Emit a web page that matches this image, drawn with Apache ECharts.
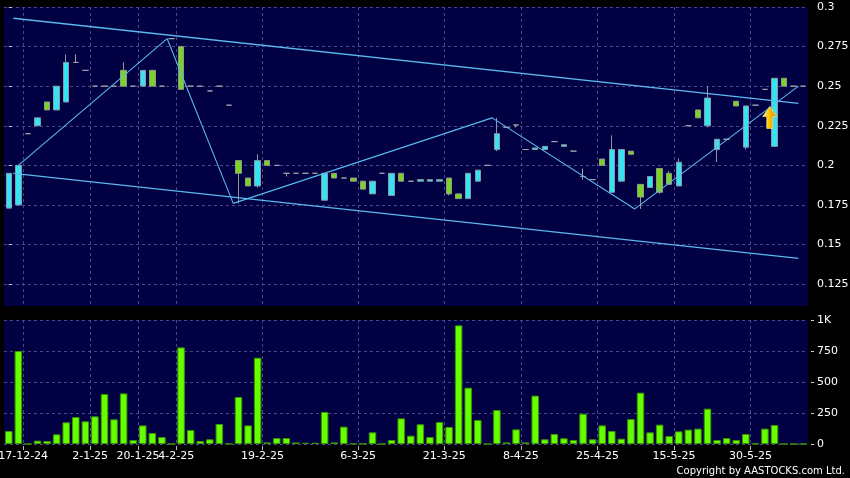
<!DOCTYPE html>
<html><head><meta charset="utf-8">
<script src="https://cdn.jsdelivr.net/npm/echarts@6/dist/echarts.min.js"></script>
<style>html,body{margin:0;padding:0;background:#000;}#c{width:850px;height:478px;}</style>
</head><body><div id="c"></div>
<script>
// ---- data ----
const opens  = [.173,.175,.220,.225,.240,.235,.240,.265,.260,.250,.250,.250,.260,.250,.250,.260,.250,.280,.275,.250,
                .250,.247,.250,.238,.203,.192,.187,.203,.200,.195,.195,.195,.195,.178,.195,.192,.192,.190,.182,.195,
                .181,.195,.190,.190,.190,.190,.192,.182,.179,.190,.200,.210,.224,.2255,.210,.210,.210,.215,.212,.209,
                .193,.191,.204,.183,.190,.209,.188,.186,.198,.195,.187,.225,.235,.225,.210,.2165,.2405,.2115,.238,.248,
                .212,.255,.250,.250];
const closes = [.195,.200,.220,.230,.235,.250,.265,.265,.260,.250,.250,.250,.250,.250,.260,.250,.250,.280,.248,.250,
                .250,.247,.250,.238,.195,.187,.203,.200,.200,.195,.195,.195,.195,.195,.192,.192,.190,.185,.190,.195,
                .195,.190,.190,.191,.191,.191,.182,.179,.195,.197,.200,.220,.224,.2255,.210,.211,.212,.215,.213,.209,
                .193,.191,.200,.210,.210,.207,.180,.193,.183,.188,.202,.225,.230,.2425,.2165,.2165,.2375,.2375,.238,.248,
                .255,.250,.250,.250];
const lows   = [.173,.175,.220,.225,.235,.235,.240,.265,.260,.250,.250,.250,.250,.250,.250,.250,.250,.280,.248,.250,
                .250,.247,.250,.238,.176,.187,.186,.200,.200,.193,.195,.195,.195,.178,.192,.192,.190,.185,.182,.195,
                .181,.190,.190,.190,.190,.190,.181,.179,.179,.190,.200,.209,.224,.224,.210,.210,.210,.215,.212,.209,
                .191,.191,.200,.183,.190,.207,.1725,.186,.182,.188,.187,.225,.230,.224,.202,.2165,.2375,.210,.238,.248,
                .212,.250,.250,.250];
const highs  = [.195,.200,.220,.230,.240,.250,.270,.270,.260,.250,.250,.250,.265,.250,.260,.260,.250,.280,.275,.250,
                .250,.247,.250,.238,.203,.192,.207,.203,.200,.195,.195,.195,.195,.195,.195,.192,.192,.190,.190,.195,
                .195,.195,.190,.191,.191,.191,.192,.182,.195,.197,.200,.230,.224,.2255,.210,.211,.212,.215,.213,.209,
                .198,.191,.204,.219,.210,.209,.188,.193,.198,.1965,.2045,.225,.235,.250,.2165,.2165,.2405,.2375,.238,.248,
                .255,.255,.250,.250];
const volumes = [105,750,0,27,24,78,175,218,183,223,403,199,408,32,150,89,56,0,779,113,
                 24,38,161,3,379,150,696,13,48,48,13,10,10,258,13,140,3,3,94,0,
                 32,207,67,159,56,177,137,957,454,193,0,274,13,118,13,390,38,81,46,32,
                 244,38,150,105,43,201,414,94,156,64,102,116,124,285,32,48,32,81,3,124,
                 153,0,0,0];
const categories = opens.map((_, i) => String(i + 1));          // trading-day bars
const tickLabels = ['17-12-24','2-1-25','20-1-25','4-2-25','19-2-25','6-3-25','21-3-25','8-4-25','25-4-25','15-5-25','30-5-25'];
const tickAt     = [2, 9, 14, 18, 27, 37, 46, 54, 62, 70, 78];  // bar where each labelled date starts
const priceTicks = [0.125, 0.15, 0.175, 0.2, 0.225, 0.25, 0.275, 0.3];
const volTicks   = [0, 250, 500, 750, 1000];
// overlay lines, x in bar units
const zigzag        = [[1, 0.2], [16.55, 0.28], [23.45, 0.176], [50.5, 0.23], [65.4, 0.1725], [82.5, 0.25]];
const upperChannel  = [[0.47, 0.2929], [82.5, 0.2392]];
const lowerChannel  = [[0.47, 0.1950], [82.5, 0.1413]];
const arrowAt       = [79.5, 0.2302];
const priceMin = 0.1112;

// ---- chart ----
const gridColor = '#47478a';
const font = 'DejaVu Sans';
const boundaryCats = Array.from({length: categories.length + 1}, (_, i) => {
  const t = tickAt.indexOf(i); return t >= 0 ? tickLabels[t] : 'b' + i;
});
const showTick = (idx) => tickAt.indexOf(idx) >= 0;
const lineStyle = {color: '#5ab9ee', width: 1.3};

const chart = echarts.init(document.getElementById('c'));
chart.setOption({
  backgroundColor: '#000',
  animation: false,
  grid: [
    {left: 4, right: 42, top: 7, bottom: 172, show: true, backgroundColor: '#000042', borderWidth: 0, outerBoundsMode: 'none', containLabel: false},
    {left: 4, right: 42, top: 320, bottom: 34, show: true, backgroundColor: '#000042', borderWidth: 0, outerBoundsMode: 'none', containLabel: false}
  ],
  xAxis: [
    {type: 'category', gridIndex: 0, data: categories, show: false, position: 'bottom'},
    {type: 'category', gridIndex: 1, data: categories, show: false, position: 'bottom'},
    {type: 'category', gridIndex: 0, data: boundaryCats, boundaryGap: false, position: 'bottom',
      axisLine: {show: false}, axisTick: {show: false}, axisLabel: {show: false},
      splitLine: {show: true, interval: showTick, lineStyle: {color: gridColor, type: [3, 3]}}},
    {type: 'category', gridIndex: 1, data: boundaryCats, boundaryGap: false, position: 'bottom', offset: 2,
      axisLine: {show: false},
      axisTick: {show: true, interval: showTick, length: 4, lineStyle: {color: '#bbbbbb'}},
      axisLabel: {show: true, interval: showTick, color: '#ffffff', fontSize: 11, fontFamily: font, margin: 5},
      splitLine: {show: true, interval: showTick, lineStyle: {color: gridColor, type: [3, 3]}}},
    {type: 'value', gridIndex: 0, min: -0.5, max: categories.length - 0.5, show: false, position: 'bottom'}
  ],
  yAxis: [
    {type: 'value', gridIndex: 0, position: 'right', min: priceMin, max: priceTicks[priceTicks.length - 1],
      minInterval: priceTicks[1] - priceTicks[0], maxInterval: priceTicks[1] - priceTicks[0], offset: 3,
      axisLine: {show: false},
      axisTick: {show: true, length: 3, customValues: priceTicks, lineStyle: {color: '#cccccc'}},
      axisLabel: {color: '#ffffff', fontSize: 11, fontFamily: font, margin: 6,
        customValues: priceTicks,
        formatter: v => String(Math.round(v * 1000) / 1000)},
      splitLine: {show: true, lineStyle: {color: gridColor, type: [3, 3]}}},
    {type: 'value', gridIndex: 1, position: 'right', min: volTicks[0], max: volTicks[volTicks.length - 1],
      interval: volTicks[1] - volTicks[0], offset: 3,
      axisLine: {show: false},
      axisTick: {show: true, length: 3, lineStyle: {color: '#cccccc'}},
      axisLabel: {color: '#ffffff', fontSize: 11, fontFamily: font, margin: 6,
        formatter: v => v >= 1000 ? (v / 1000) + 'K' : String(v)},
      splitLine: {show: true, lineStyle: {color: gridColor, type: [3, 3]}}}
  ],
  series: [
    {type: 'candlestick', xAxisIndex: 0, yAxisIndex: 0, barWidth: 6,
      data: categories.map((_, i) => [opens[i], closes[i], lows[i], highs[i]]),
      itemStyle: {color: '#35e3f2', color0: '#7cd422', borderColor: '#8a97a6', borderColor0: '#8f9a8c',
        borderColorDoji: '#a0a0a8', borderWidth: 1}},
    {type: 'bar', xAxisIndex: 1, yAxisIndex: 1, barWidth: 7.5, data: volumes,
      itemStyle: {color: '#66ff00', borderColor: '#3b9400', borderWidth: 1}},
    {type: 'line', xAxisIndex: 4, yAxisIndex: 0, data: upperChannel, symbol: 'none', lineStyle: lineStyle, silent: true},
    {type: 'line', xAxisIndex: 4, yAxisIndex: 0, data: lowerChannel, symbol: 'none', lineStyle: lineStyle, silent: true},
    {type: 'line', xAxisIndex: 4, yAxisIndex: 0, data: zigzag, symbol: 'none', lineStyle: {color: '#5ab9ee', width: 1.1}, silent: true,
      markPoint: {
        symbol: 'path://M7,0 L14,10 L10,10 L10,22 L4,22 L4,10 L0,10 Z', symbolSize: [14, 22], silent: true,
        label: {show: false},
        data: [{coord: arrowAt, itemStyle: {
          color: new echarts.graphic.LinearGradient(0, 0, 1, 0, [
            {offset: 0, color: '#fff6a8'}, {offset: 0.45, color: '#ffc400'}, {offset: 1, color: '#e08600'}]),
          borderColor: '#ffe98a', borderWidth: 0.6}}]
      }}
  ],
  graphic: [
    {type: 'text', right: 5, bottom: 2, style: {text: 'Copyright by AASTOCKS.com Ltd.', fill: '#ffffff', font: '10px "DejaVu Sans"'}}
  ]
});
</script></body></html>
